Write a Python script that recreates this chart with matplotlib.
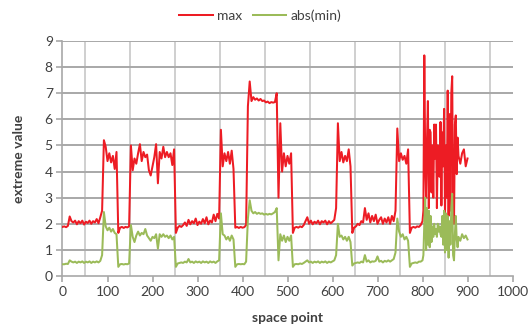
import matplotlib
matplotlib.use("Agg")
import matplotlib.pyplot as plt
import numpy as np

# x positions: step 4 up to 796, step 2 in the chaotic region, step 4 at the end
x_main = list(range(0, 800, 4))
x_chaos = list(range(800, 880, 2))
x_tail = list(range(880, 901, 4))
space_point = x_main + x_chaos + x_tail

max_main = [
    1.88, 1.90, 1.87, 1.92, 2.28, 2.10, 2.05, 2.12, 1.98, 2.10,
    2.02, 2.12, 1.97, 2.08, 2.03, 2.12, 2.00, 2.10, 2.05, 2.18,
    2.02, 2.25, 2.50, 5.20, 4.95, 4.40, 4.70, 4.35, 4.60, 4.10,
    4.75, 1.65, 1.85, 1.88, 1.84, 1.88, 1.86, 1.90, 5.00, 4.05,
    4.50, 4.30, 4.70, 5.05, 4.40, 4.75, 4.55, 4.65, 4.05, 3.85,
    4.20, 4.55, 5.05, 3.55, 4.75, 4.50, 4.95, 4.55, 4.75, 4.55,
    4.70, 4.25, 4.85, 1.65, 1.85, 1.92, 1.88, 1.95, 2.05, 1.92,
    2.15, 1.98, 2.10, 2.02, 2.20, 1.95, 2.08, 2.00, 2.18, 2.02,
    2.25, 1.98, 2.12, 2.05, 2.35, 2.10, 2.38, 2.20, 5.60, 4.20,
    4.70, 4.40, 4.75, 4.30, 4.80, 4.10, 1.85, 1.88, 1.84, 1.88,
    1.85, 1.87, 1.95, 6.50, 7.45, 6.70, 6.85, 6.75, 6.80, 6.72,
    6.78, 6.70, 6.72, 6.65, 6.68, 6.62, 6.66, 6.64, 6.66, 7.00,
    3.00, 5.85, 4.00, 4.70, 4.20, 4.60, 4.30, 4.70, 1.65, 1.85,
    1.88, 1.85, 1.90, 1.87, 1.95, 2.10, 2.25, 2.00, 2.12, 1.98,
    2.08, 2.02, 2.12, 1.98, 2.10, 2.05, 2.12, 1.98, 2.10, 2.02,
    2.08, 2.15, 2.60, 5.85, 4.40, 4.75, 4.35, 4.60, 4.40, 4.85,
    4.20, 1.65, 1.85, 1.90, 2.00, 1.95, 2.10, 2.05, 2.60, 2.15,
    2.40, 2.05, 2.30, 2.10, 2.35, 2.00, 2.15, 2.25, 2.00, 2.20,
    2.05, 2.25, 2.00, 2.30, 2.10, 2.50, 5.65, 4.40, 4.70, 4.45,
    4.60, 4.30, 4.85, 1.65, 1.85, 1.88, 1.85, 1.90, 1.88, 1.95,
]
max_chaos = [
    2.10, 2.50, 8.45, 4.50, 3.00, 5.20, 6.70, 2.60, 5.60, 5.50,
    3.20, 5.00, 3.00, 5.80, 4.50, 5.80, 2.60, 5.00, 4.00, 3.80,
    5.90, 2.70, 5.50, 4.20, 6.40, 2.30, 5.00, 3.00, 7.10, 2.30,
    6.20, 2.50, 7.00, 7.65, 2.20, 2.00, 5.80, 6.15, 3.90, 5.30,
]
max_tail = [4.60, 4.30, 4.70, 4.85, 4.20, 4.50]

absmin_main = [
    0.45, 0.45, 0.47, 0.46, 0.60, 0.55, 0.52, 0.55, 0.50, 0.55,
    0.52, 0.56, 0.50, 0.55, 0.52, 0.56, 0.50, 0.55, 0.52, 0.56,
    0.52, 0.58, 0.80, 2.45, 1.90, 1.75, 1.85, 1.70, 1.80, 1.65,
    1.60, 0.35, 0.45, 0.46, 0.44, 0.46, 0.45, 0.48, 1.95, 1.50,
    1.30, 1.55, 1.70, 1.55, 1.65, 1.60, 1.80, 1.55, 1.45, 1.35,
    1.50, 1.45, 1.60, 1.05, 1.60, 1.50, 1.60, 1.50, 1.55, 1.45,
    1.55, 1.40, 1.50, 0.35, 0.48, 0.50, 0.52, 0.50, 0.55, 0.52,
    0.65, 0.52, 0.55, 0.50, 0.56, 0.52, 0.55, 0.50, 0.56, 0.52,
    0.55, 0.50, 0.56, 0.52, 0.55, 0.50, 0.56, 0.60, 2.40, 1.60,
    1.55, 1.40, 1.50, 1.35, 1.55, 1.40, 0.35, 0.45, 0.46, 0.45,
    0.46, 0.45, 0.55, 2.20, 2.90, 2.50, 2.40, 2.45, 2.38, 2.42,
    2.38, 2.40, 2.35, 2.38, 2.35, 2.38, 2.36, 2.40, 2.45, 2.60,
    0.60, 1.60, 1.35, 1.55, 1.30, 1.50, 1.35, 1.55, 0.35, 0.45,
    0.46, 0.45, 0.48, 0.46, 0.50, 0.55, 0.60, 0.52, 0.55, 0.50,
    0.55, 0.52, 0.56, 0.50, 0.55, 0.52, 0.56, 0.50, 0.55, 0.52,
    0.56, 0.60, 0.80, 2.00, 1.50, 1.55, 1.40, 1.50, 1.35, 1.50,
    1.30, 0.40, 0.48, 0.50, 0.52, 0.50, 0.55, 0.52, 0.80, 0.55,
    0.60, 0.52, 0.56, 0.55, 0.58, 0.75, 0.55, 0.58, 0.52, 0.58,
    0.55, 0.60, 0.55, 0.60, 0.65, 0.90, 2.20, 1.70, 1.50, 1.60,
    1.40, 1.50, 1.35, 0.35, 0.48, 0.50, 0.52, 0.50, 0.55, 0.55,
]
absmin_chaos = [
    0.60, 0.80, 2.00, 3.00, 1.00, 2.60, 1.20, 2.50, 1.10, 2.30,
    1.30, 1.90, 1.50, 2.00, 1.60, 1.80, 1.50, 2.00, 1.70, 1.90,
    1.60, 1.50, 2.30, 1.20, 2.50, 0.90, 2.40, 1.00, 2.30, 0.70,
    2.10, 1.20, 2.60, 3.15, 0.80, 0.60, 1.60, 2.30, 1.40, 1.10,
]
absmin_tail = [1.50, 1.35, 1.60, 1.45, 1.55, 1.40]

max_vals = max_main + max_chaos + max_tail
absmin_vals = absmin_main + absmin_chaos + absmin_tail

x_ticks = list(range(0, 1001, 100))
y_ticks = list(range(0, 10))
series_names = ["max", "abs(min)"]

plt.rcParams['font.family'] = ['Lato', 'DejaVu Sans']

fig = plt.figure(figsize=(5.31, 3.27), dpi=100)
ax = fig.add_axes([62.5/531, 1-276/327, 450/531, 235/327])

red = "#ed1c24"
green = "#9bbb59"
ax.plot(space_point, max_vals, color=red, lw=1.45, label=series_names[0], zorder=3)
ax.plot(space_point, absmin_vals, color=green, lw=1.45, label=series_names[1], zorder=3)

ax.set_xlim(0, 1000)
ax.set_ylim(0, 9)
ax.set_xticks(x_ticks)
ax.set_yticks(y_ticks)
for v in range(50, 1000, 100):
    ax.axvline(v, color="#cfcfcf", lw=1.4, zorder=1)
for v in range(1, 10):
    ax.axhline(v, color="#a8a8a8", lw=1.4, zorder=1)

for s in ["top", "right"]:
    ax.spines[s].set_visible(False)
for s in ["left", "bottom"]:
    ax.spines[s].set_color("#a8a8a8")
    ax.spines[s].set_linewidth(1.2)
ax.tick_params(axis="both", direction="out", length=4, width=1.2, color="#a8a8a8",
               labelsize=10, labelcolor="#404040")
ax.tick_params(axis="x", pad=3)
ax.tick_params(axis="y", pad=3)

ax.set_xlabel("space point", fontsize=10, fontweight="bold", color="#404040", labelpad=10)
ax.set_ylabel("extreme value", fontsize=10, fontweight="bold", color="#404040", labelpad=14)

leg = fig.legend(loc="center", bbox_to_anchor=(0.49, 0.953), ncol=2, frameon=False,
                 fontsize=10, handlelength=2.4, handletextpad=0.3, columnspacing=0.8)
for t in leg.get_texts():
    t.set_color("#404040")

fig.savefig("out.png", dpi=100)
